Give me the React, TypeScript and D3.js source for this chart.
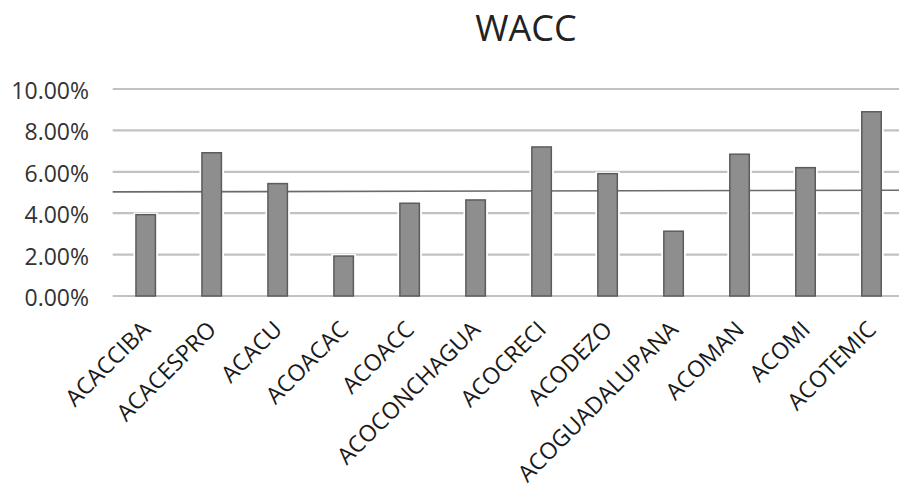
import React from "react";
import * as d3 from "d3";

const categories = [
  "ACACCIBA", "ACACESPRO", "ACACU", "ACOACAC", "ACOACC", "ACOCONCHAGUA",
  "ACOCRECI", "ACODEZO", "ACOGUADALUPANA", "ACOMAN", "ACOMI", "ACOTEMIC",
];
const wacc = [3.93, 6.92, 5.43, 1.93, 4.48, 4.64, 7.2, 5.91, 3.13, 6.85, 6.2, 8.9];
const refLine = [5.03, 5.11];
const yTicks = [0, 2, 4, 6, 8, 10];
const title = "WACC";

const W = 899;
const H = 493;
const FONT = "'Open Sans', sans-serif";

export default function App() {
  const left = 112.7;
  const right = 904.5;
  const top = 89;
  const bottom = 296;

  const x = d3
    .scaleBand<string>()
    .domain(categories)
    .range([left, right])
    .paddingInner(0.705)
    .paddingOuter(0.3525);
  const y = d3.scaleLinear().domain([0, 10]).range([bottom, top]);
  const xr = d3.scaleLinear().domain([0, refLine.length - 1]).range([left, right]);
  const line = d3
    .line<number>()
    .x((_, i) => xr(i))
    .y((d) => y(d));

  return (
    <svg
      width={W}
      height={H}
      style={{ position: "absolute", left: 0, top: 0, background: "#fff" }}
    >
      <text
        x={526}
        y={41}
        textAnchor="middle"
        fontFamily={FONT}
        fontSize={36}
        fill="#222"
      >
        {title}
      </text>
      {yTicks.map((t) => (
        <g key={t}>
          <line
            x1={left}
            x2={right}
            y1={y(t)}
            y2={y(t)}
            stroke="#c2c2c2"
            strokeWidth={2.2}
          />
          <text
            x={89}
            y={y(t) + 10}
            textAnchor="end"
            fontFamily={FONT}
            fontSize={23}
            fill="#333"
          >
            {t.toFixed(2) + "%"}
          </text>
        </g>
      ))}
      {categories.map((c, i) => (
        <rect
          key={"halo" + c}
          x={x(c)! - 2.5}
          y={y(wacc[i]) - 2}
          width={x.bandwidth() + 5}
          height={bottom - y(wacc[i]) + 1}
          fill="#fff"
        />
      ))}
      <path d={line(refLine) || ""} fill="none" stroke="#6b6b6b" strokeWidth={1.6} />
      {categories.map((c, i) => (
        <rect
          key={c}
          x={x(c)!}
          y={y(wacc[i])}
          width={x.bandwidth()}
          height={bottom - y(wacc[i])}
          fill="#8e8e8e"
          stroke="#5c5c5c"
          strokeWidth={1.5}
        />
      ))}
      {categories.map((c) => {
        const cx = x(c)! + x.bandwidth() / 2;
        return (
          <text
            key={"l" + c}
            transform={`translate(${cx + 6},${331}) rotate(-45)`}
            textAnchor="end"
            fontFamily={FONT}
            fontSize={23}
            fill="#1a1a1a"
          >
            {c}
          </text>
        );
      })}
    </svg>
  );
}
